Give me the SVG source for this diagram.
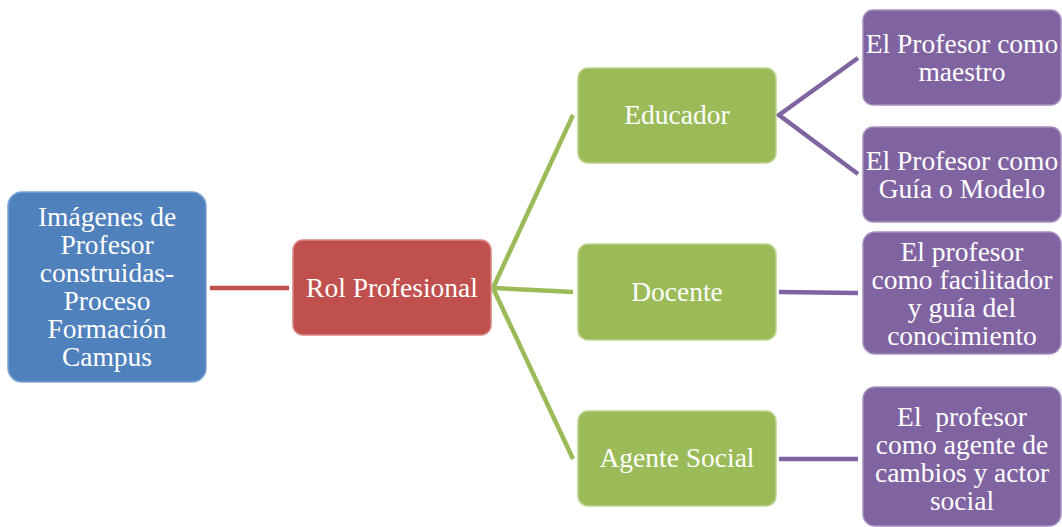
<svg xmlns="http://www.w3.org/2000/svg" width="1062" height="527" viewBox="0 0 1062 527">
<style>
.n{stroke-width:1.5}
.blue{fill:#4F81BD;stroke:#7FA3D3}
.red{fill:#C0504D;stroke:#D88583}
.green{fill:#9BBB59;stroke:#BDD48F}
.purple{fill:#8064A2;stroke:#A691BF}
text{font-family:"Liberation Serif","DejaVu Serif",serif;font-size:27.5px;fill:#FFFFFF;text-anchor:middle}
.c{fill:none;stroke-width:4.5}
</style>
<rect width="1062" height="527" fill="#FFFFFF"/>
<g id="connectors">
<line class="c" x1="210" y1="288" x2="289" y2="288" stroke="#C0504D"/>
<line class="c" x1="493" y1="288" x2="573" y2="115" stroke="#9BBB59"/>
<line class="c" x1="493" y1="288" x2="573" y2="292" stroke="#9BBB59"/>
<line class="c" x1="493" y1="288" x2="573" y2="459" stroke="#9BBB59"/>
<polyline class="c" points="858,58 779,115 858,174" stroke="#8064A2"/>
<line class="c" x1="779" y1="292" x2="858" y2="293" stroke="#8064A2"/>
<line class="c" x1="779" y1="459" x2="858" y2="459" stroke="#8064A2"/>
</g>
<g id="n-imagenes">
<rect class="n blue" x="8" y="192" width="198" height="190" rx="14"/>
<text x="107" y="226">Imágenes de</text>
<text x="107" y="254">Profesor</text>
<text x="107" y="282">construidas-</text>
<text x="107" y="310">Proceso</text>
<text x="107" y="338">Formación</text>
<text x="107" y="366">Campus</text>
</g>
<g id="n-rol">
<rect class="n red" x="293" y="240" width="198" height="95" rx="10"/>
<text x="392" y="297">Rol Profesional</text>
</g>
<g id="n-educador">
<rect class="n green" x="578" y="68" width="198" height="95" rx="10"/>
<text x="677" y="124">Educador</text>
</g>
<g id="n-docente">
<rect class="n green" x="578" y="244" width="198" height="96" rx="10"/>
<text x="677" y="301">Docente</text>
</g>
<g id="n-agente">
<rect class="n green" x="578" y="411" width="198" height="95" rx="10"/>
<text x="677" y="467">Agente Social</text>
</g>
<g id="n-maestro">
<rect class="n purple" x="863" y="10" width="198" height="95" rx="10"/>
<text x="962" y="53">El Profesor como</text>
<text x="962" y="81">maestro</text>
</g>
<g id="n-guia">
<rect class="n purple" x="863" y="127" width="198" height="95" rx="10"/>
<text x="962" y="170">El Profesor como</text>
<text x="962" y="198">Guía o Modelo</text>
</g>
<g id="n-facilitador">
<rect class="n purple" x="863" y="232" width="198" height="122" rx="12"/>
<text x="962" y="261">El profesor</text>
<text x="962" y="289">como facilitador</text>
<text x="962" y="317">y guía del</text>
<text x="962" y="345">conocimiento</text>
</g>
<g id="n-cambios">
<rect class="n purple" x="863" y="387" width="198" height="139" rx="12"/>
<text x="962" y="426" xml:space="preserve">El  profesor</text>
<text x="962" y="454">como agente de</text>
<text x="962" y="482">cambios y actor</text>
<text x="962" y="510">social</text>
</g>
</svg>
